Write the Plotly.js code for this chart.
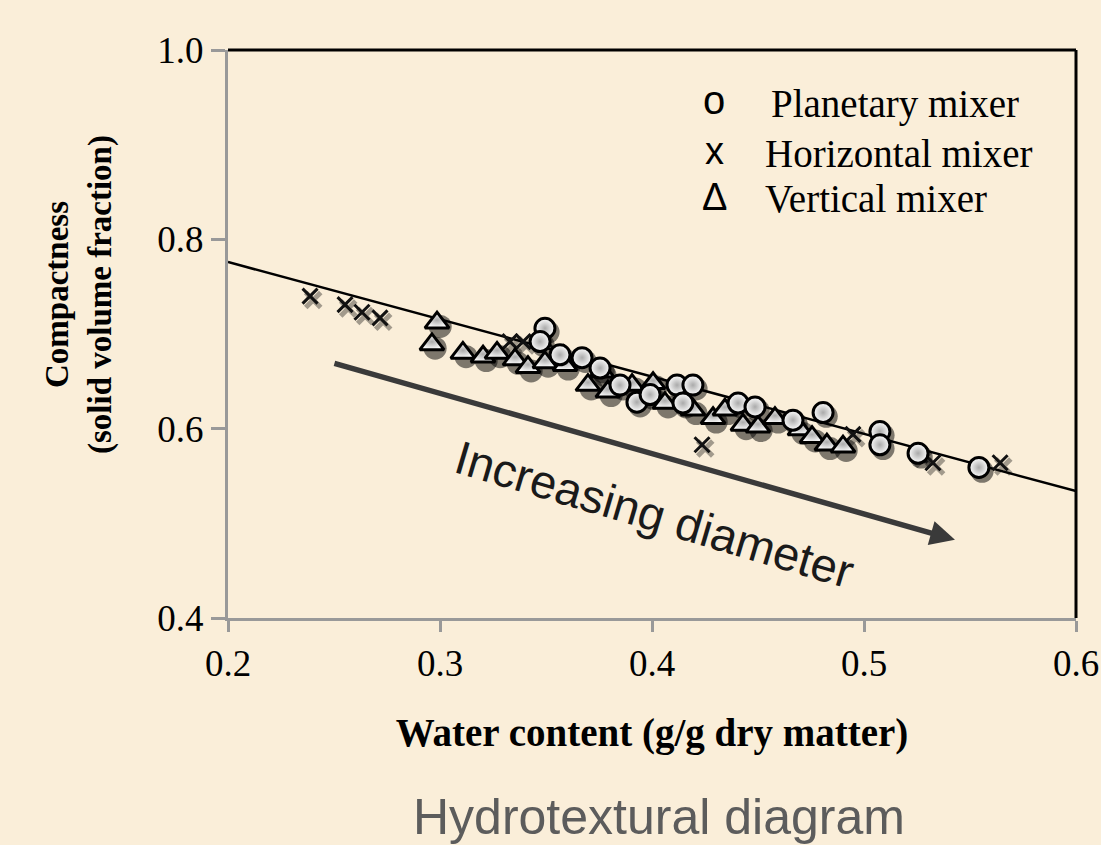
<!DOCTYPE html>
<html>
<head>
<meta charset="utf-8">
<script src="https://cdn.plot.ly/plotly-3.0.1.min.js"></script>
<style>
html,body{margin:0;padding:0;background:#FAEED9;}
#chart{width:1101px;height:845px;}
</style>
</head>
<body>
<div id="chart"></div>
<script>
// Planetary mixer (circles)
const planetaryX = [0.3495,0.3472,0.3566,0.3670,0.3755,0.3849,0.3929,0.3991,0.4118,0.4146,0.4193,0.4406,0.4486,0.4665,0.4807,0.5075,0.5075,0.5255,0.5542];
const planetaryY = [0.706,0.692,0.678,0.675,0.664,0.646,0.628,0.636,0.646,0.627,0.646,0.627,0.623,0.609,0.617,0.597,0.583,0.574,0.559];
// Horizontal mixer (x)
const horizontalX = [0.2387,0.2552,0.2632,0.2717,0.3330,0.3392,0.3552,0.4236,0.4948,0.5264,0.5325,0.5642];
const horizontalY = [0.740,0.731,0.723,0.717,0.692,0.692,0.681,0.583,0.594,0.572,0.564,0.564];
// Vertical mixer (triangles)
const verticalX = [0.2986,0.2962,0.3108,0.3203,0.3269,0.3354,0.3415,0.3495,0.3590,0.3698,0.3764,0.3792,0.3906,0.4005,0.4061,0.4193,0.4288,0.4344,0.4429,0.4500,0.4580,0.4698,0.4755,0.4825,0.4901];
const verticalY = [0.712,0.689,0.680,0.676,0.680,0.673,0.665,0.670,0.667,0.646,0.660,0.639,0.646,0.648,0.627,0.620,0.611,0.620,0.604,0.602,0.611,0.599,0.591,0.583,0.581];
// Fitted line
const fitX = [0.2, 0.6];
const fitY = [0.776, 0.534];
// Arrow (start / end)
const arrowStart = [0.2495, 0.6695];
const arrowEnd = [0.5429, 0.4826];
// Ticks
const xTicks = [0.2, 0.3, 0.4, 0.5, 0.6];
const xTickLabels = ['0.2','0.3','0.4','0.5','0.6'];
const yTicks = [0.4, 0.6, 0.8, 1.0];
const yTickLabels = ['0.4','0.6','0.8','1.0'];
// Legend texts
const legendSymbols = ['o','x','Δ'];
const legendLabels = ['Planetary mixer','Horizontal mixer','Vertical mixer'];

const serif = 'Liberation Serif, Times New Roman, serif';
const sans = 'Liberation Sans, Arial, sans-serif';

// drop-shadow offset (style only, in axis units)
const sdx = 0.0015, sdy = -0.004;
const shadow = (xs, ys) => ({x: xs.map(v => v + sdx), y: ys.map(v => v + sdy)});
const allX = planetaryX.concat(verticalX);
const allY = planetaryY.concat(verticalY);
const sh = shadow(allX, allY);
const shx = shadow(horizontalX, horizontalY);

const traces = [
  {x: fitX, y: fitY, mode: 'lines', line: {color: '#000', width: 2.5}, hoverinfo: 'skip', showlegend: false},
  {x: shx.x, y: shx.y, mode: 'markers', showlegend: false, hoverinfo: 'skip',
   marker: {symbol: 'x-thin', size: 15, opacity: 0.35, line: {color: '#000', width: 5}}},
  {x: sh.x, y: sh.y, mode: 'markers', showlegend: false, hoverinfo: 'skip',
   marker: {symbol: 'circle', size: 23, color: 'rgba(0,0,0,0.5)', line: {width: 0}}},
  {x: horizontalX, y: horizontalY, mode: 'markers', name: 'Horizontal mixer', showlegend: false,
   marker: {symbol: 'x-thin', size: 15, line: {color: '#111', width: 3}}},
  {x: verticalX, y: verticalY, mode: 'markers', name: 'Vertical mixer', showlegend: false,
   marker: {symbol: 'triangle-up', size: 21, color: '#ffffff', gradient: {type: 'radial', color: '#aaa'}, line: {color: '#000', width: 3}}},
  {x: planetaryX, y: planetaryY, mode: 'markers', name: 'Planetary mixer', showlegend: false,
   marker: {symbol: 'circle', size: 20, color: '#ffffff', gradient: {type: 'radial', color: '#aaa'}, line: {color: '#000', width: 3}}}
];

const annotations = [];
const legendY = [104, 153, 199];
const legendSymbolSize = [40, 38, 38];
const legendSymbolY = [100, 151, 197];
legendSymbols.forEach((s, i) => {
  annotations.push({xref: 'paper', yref: 'paper', x: (714 - 228) / 848, y: 1 - (legendSymbolY[i] - 50) / 568,
    text: s, showarrow: false, xanchor: 'center', yanchor: 'middle',
    font: {family: sans, size: legendSymbolSize[i], color: '#000'}});
  annotations.push({xref: 'paper', yref: 'paper', x: ((i === 0 ? 769 : 763) - 228) / 848, y: 1 - (legendY[i] - 50) / 568,
    text: legendLabels[i], showarrow: false, xanchor: 'left', yanchor: 'middle',
    font: {family: serif, size: 39, color: '#000'}});
});
annotations.push({x: arrowEnd[0], y: arrowEnd[1], ax: arrowStart[0], ay: arrowStart[1],
  xref: 'x', yref: 'y', axref: 'x', ayref: 'y', text: '', showarrow: true,
  arrowhead: 2, arrowsize: 0.9, arrowwidth: 5.5, arrowcolor: '#3a3a3a', standoff: 0});
annotations.push({xref: 'x', yref: 'y', x: 0.4014, y: 0.509, text: 'Increasing diameter', showarrow: false,
  textangle: 16.5, font: {family: sans, size: 47, color: '#1a1a1a'}});
// y-axis title (as annotation to match its off-centre position)
annotations.push({xref: 'paper', yref: 'paper', x: (79 - 228) / 848, y: 1 - (295 - 50) / 568,
  text: '<b>Compactness<br>(solid volume fraction)</b>', showarrow: false, textangle: -90,
  xanchor: 'center', yanchor: 'middle', font: {family: serif, size: 33, color: '#000'}});
annotations.push({xref: 'paper', yref: 'paper', x: (659 - 228) / 848, y: 1 - (817 - 50) / 568,
  text: 'Hydrotextural diagram', showarrow: false, xanchor: 'center', yanchor: 'middle',
  font: {family: sans, size: 50, color: '#5c5c5c'}});

const layout = {
  width: 1101, height: 845,
  paper_bgcolor: '#FAEED9', plot_bgcolor: '#FAEED9',
  margin: {l: 228, r: 25, t: 50, b: 227},
  showlegend: false,
  xaxis: {range: [0.2, 0.6], tickvals: xTicks, ticktext: xTickLabels, showgrid: false, zeroline: false,
    showline: true, linecolor: '#999', linewidth: 3, ticks: 'outside', ticklen: 11, tickwidth: 3, tickcolor: '#999',
    tickfont: {family: serif, size: 37, color: '#000'}, automargin: false,
    title: {text: '<b>Water content (g/g dry matter)</b>', font: {family: serif, size: 39, color: '#000'}, standoff: 36}},
  yaxis: {range: [0.4, 1.0], tickvals: yTicks, ticktext: yTickLabels, showgrid: false, zeroline: false,
    showline: true, linecolor: '#999', linewidth: 3, ticks: 'outside', ticklen: 14, tickwidth: 3, tickcolor: '#999',
    tickfont: {family: serif, size: 37, color: '#000'}, automargin: false},
  shapes: [
    {type: 'line', xref: 'paper', yref: 'paper', x0: 0, x1: 1, y0: 1, y1: 1, line: {color: '#000', width: 3}},
    {type: 'line', xref: 'paper', yref: 'paper', x0: 1, x1: 1, y0: 0, y1: 1, line: {color: '#000', width: 3}}
  ],
  annotations: annotations
};

Plotly.newPlot('chart', traces, layout, {displayModeBar: false, staticPlot: true});
</script>
</body>
</html>
